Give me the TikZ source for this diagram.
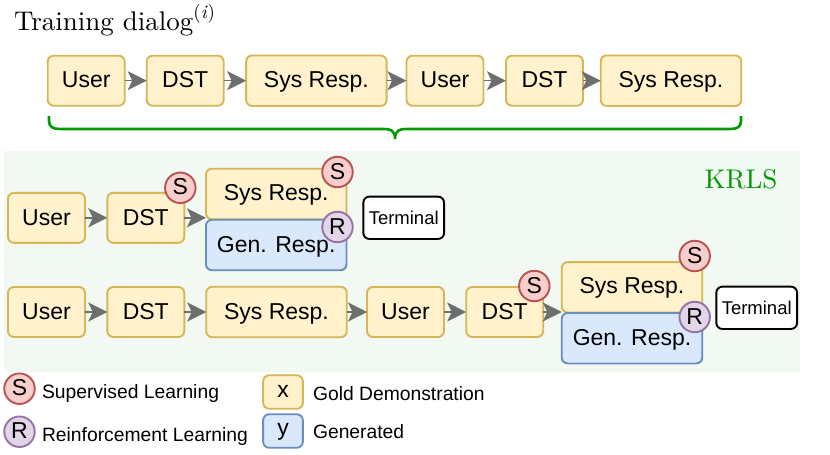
\documentclass[tikz,border=0pt]{standalone}
\usepackage{fontspec}
\setsansfont{Liberation Sans}
\newfontfamily\headfont[Extension=.otf, ItalicFont=lmroman10-italic]{lmroman10-regular}
\usetikzlibrary{arrows.meta}
\definecolor{goldfill}{HTML}{FFF2CC}
\definecolor{golddraw}{HTML}{D6B656}
\definecolor{bluefill}{HTML}{DAE8FC}
\definecolor{bluedraw}{HTML}{6C8EBF}
\definecolor{redfill}{HTML}{F8CECC}
\definecolor{reddraw}{HTML}{B85450}
\definecolor{purplefill}{HTML}{E1D5E7}
\definecolor{purpledraw}{HTML}{9673A6}
\definecolor{panelgreen}{HTML}{F2F8F2}
\definecolor{bracegreen}{HTML}{009900}
\definecolor{flowgray}{HTML}{6E6E6E}
\tikzset{
  every node/.style={inner sep=0pt, outer sep=0pt},
  stagebox/.style={rounded corners=6pt, line width=1.9pt, align=center,
    text height=14.5pt, text depth=0pt,
    font=\sffamily\fontsize{23}{25}\selectfont, text=black},
  gold/.style={stagebox, draw=golddraw, fill=goldfill},
  gen/.style={stagebox, draw=bluedraw, fill=bluefill},
  shortbox/.style={minimum width=77pt, minimum height=50pt},
  longbox/.style={minimum width=140.5pt, minimum height=50.5pt},
  terminalbox/.style={draw=black, fill=white, rounded corners=6pt, line width=1.9pt,
    minimum width=80.7pt, minimum height=42.3pt, text height=14pt, text depth=0pt,
    font=\sffamily\fontsize{18.5}{20}\selectfont},
  badge/.style={circle, minimum size=30.5pt, line width=1.9pt,
    text height=14pt, text depth=0pt,
    font=\sffamily\fontsize{23}{25}\selectfont},
  sbadge/.style={badge, draw=reddraw, fill=redfill},
  rbadge/.style={badge, draw=purpledraw, fill=purplefill},
  flow/.style={draw=flowgray, line width=1.5pt,
    -{Stealth[length=19pt, width=19pt, inset=4.5pt]}},
  legendtext/.style={anchor=base west, font=\sffamily\fontsize{19.3}{21}\selectfont},
  keybox/.style={minimum width=39.7pt, minimum height=33.5pt},
}
\begin{document}
\begin{tikzpicture}[x=1pt, y=-1pt]
\useasboundingbox (0,0) rectangle (830,455);

% title and the full dialog
\node[anchor=base west, font=\headfont\fontsize{27}{29}\selectfont] (title) at (14,30)
  {Training dialog\raisebox{11.5pt}{\fontsize{19}{20}\selectfont(\textit{i})}};
\node[gold, shortbox] (a1) at (86.200,80.700) {User};
\node[gold, shortbox] (a2) at (185.200,80.700) {DST};
\node[gold, longbox]  (a3) at (316.400,80.700) {Sys Resp.};
\node[gold, shortbox] (a4) at (445,80.700) {User};
\node[gold, shortbox] (a5) at (544.500,80.700) {DST};
\node[gold, longbox]  (a6) at (671,80.700) {Sys Resp.};
\draw[flow] (a1) -- (a2);
\draw[flow] (a2) -- (a3);
\draw[flow] (a3) -- (a4);
\draw[flow] (a4) -- (a5);
\draw[flow] (a5) -- (a6);

% brace spanning the dialog
\coordinate (bl) at (49,116);
\coordinate (br) at (741,116);
\coordinate (bm) at (395,139);
\draw[bracegreen, line width=2.6pt]
  (bl) -- (49,121) .. controls (49,127) and (53,129) .. (60,129)
  -- (384,129) .. controls (390,129) and (395,130) .. (bm)
  .. controls (395,130) and (400,129) .. (406,129)
  -- (730,129) .. controls (737,129) and (741,127) .. (741,121) -- (br);

% KRLS panel
\fill[panelgreen] (4,151) rectangle (800,372);
\node[anchor=base, font=\headfont\fontsize{27}{29}\selectfont, text=bracegreen] (krls) at (741,188) {KRLS};

% first rollout
\node[gold, shortbox] (b1) at (46.500,217.800) {User};
\node[gold, shortbox] (b2) at (145.800,217.800) {DST};
\node[gold, longbox, text height=12.5pt]  (b3) at (276.200,194) {Sys Resp.};
\node[gen, longbox]   (b4) at (276.200,245) {Gen. Resp.};
\node[terminalbox] (b5) at (403.700,217.800) {Terminal};
\draw[flow] (b1) -- (b2);
\draw[flow] (b2.east) -- (b2.east -| b3.west);
\node[sbadge] (s1) at (180.300,187.800) {S};
\node[sbadge] (s2) at (337.500,172) {S};
\node[rbadge] (r1) at (337.500,227) {R};

% second rollout
\node[gold, shortbox] (c1) at (46.500,312) {User};
\node[gold, shortbox] (c2) at (145.800,312) {DST};
\node[gold, longbox]  (c3) at (276.500,312) {Sys Resp.};
\node[gold, shortbox] (c4) at (405.500,312) {User};
\node[gold, shortbox] (c5) at (504.700,312) {DST};
\node[gold, longbox, text height=12.5pt]  (c6) at (632,287.300) {Sys Resp.};
\node[gen, longbox, text height=14pt]   (c7) at (632,338.200) {Gen. Resp.};
\node[terminalbox] (c8) at (756.700,307.800) {Terminal};
\draw[flow] (c1) -- (c2);
\draw[flow] (c2) -- (c3);
\draw[flow] (c3) -- (c4);
\draw[flow] (c4) -- (c5);
\draw[flow] (c5.east) -- (c5.east -| c6.west);
\node[sbadge] (s3) at (534.300,286) {S};
\node[sbadge] (s4) at (694.700,256) {S};
\node[rbadge] (r2) at (694.700,317) {R};

% legend
\node[sbadge] (ks) at (19.500,388.700) {S};
\node[rbadge] (kr) at (19.500,431.700) {R};
\node[legendtext] (ts) at (42,398) {Supervised Learning};
\node[legendtext] (tr) at (42,441) {Reinforcement Learning};
\node[gold, keybox, text height=11pt] (kx) at (283,392) {x};
\node[gen, keybox, text height=8pt]  (ky) at (283,431) {y};
\node[legendtext] (tx) at (313,400) {Gold Demonstration};
\node[legendtext] (ty) at (313,438.500) {Generated};
\end{tikzpicture}
\end{document}
